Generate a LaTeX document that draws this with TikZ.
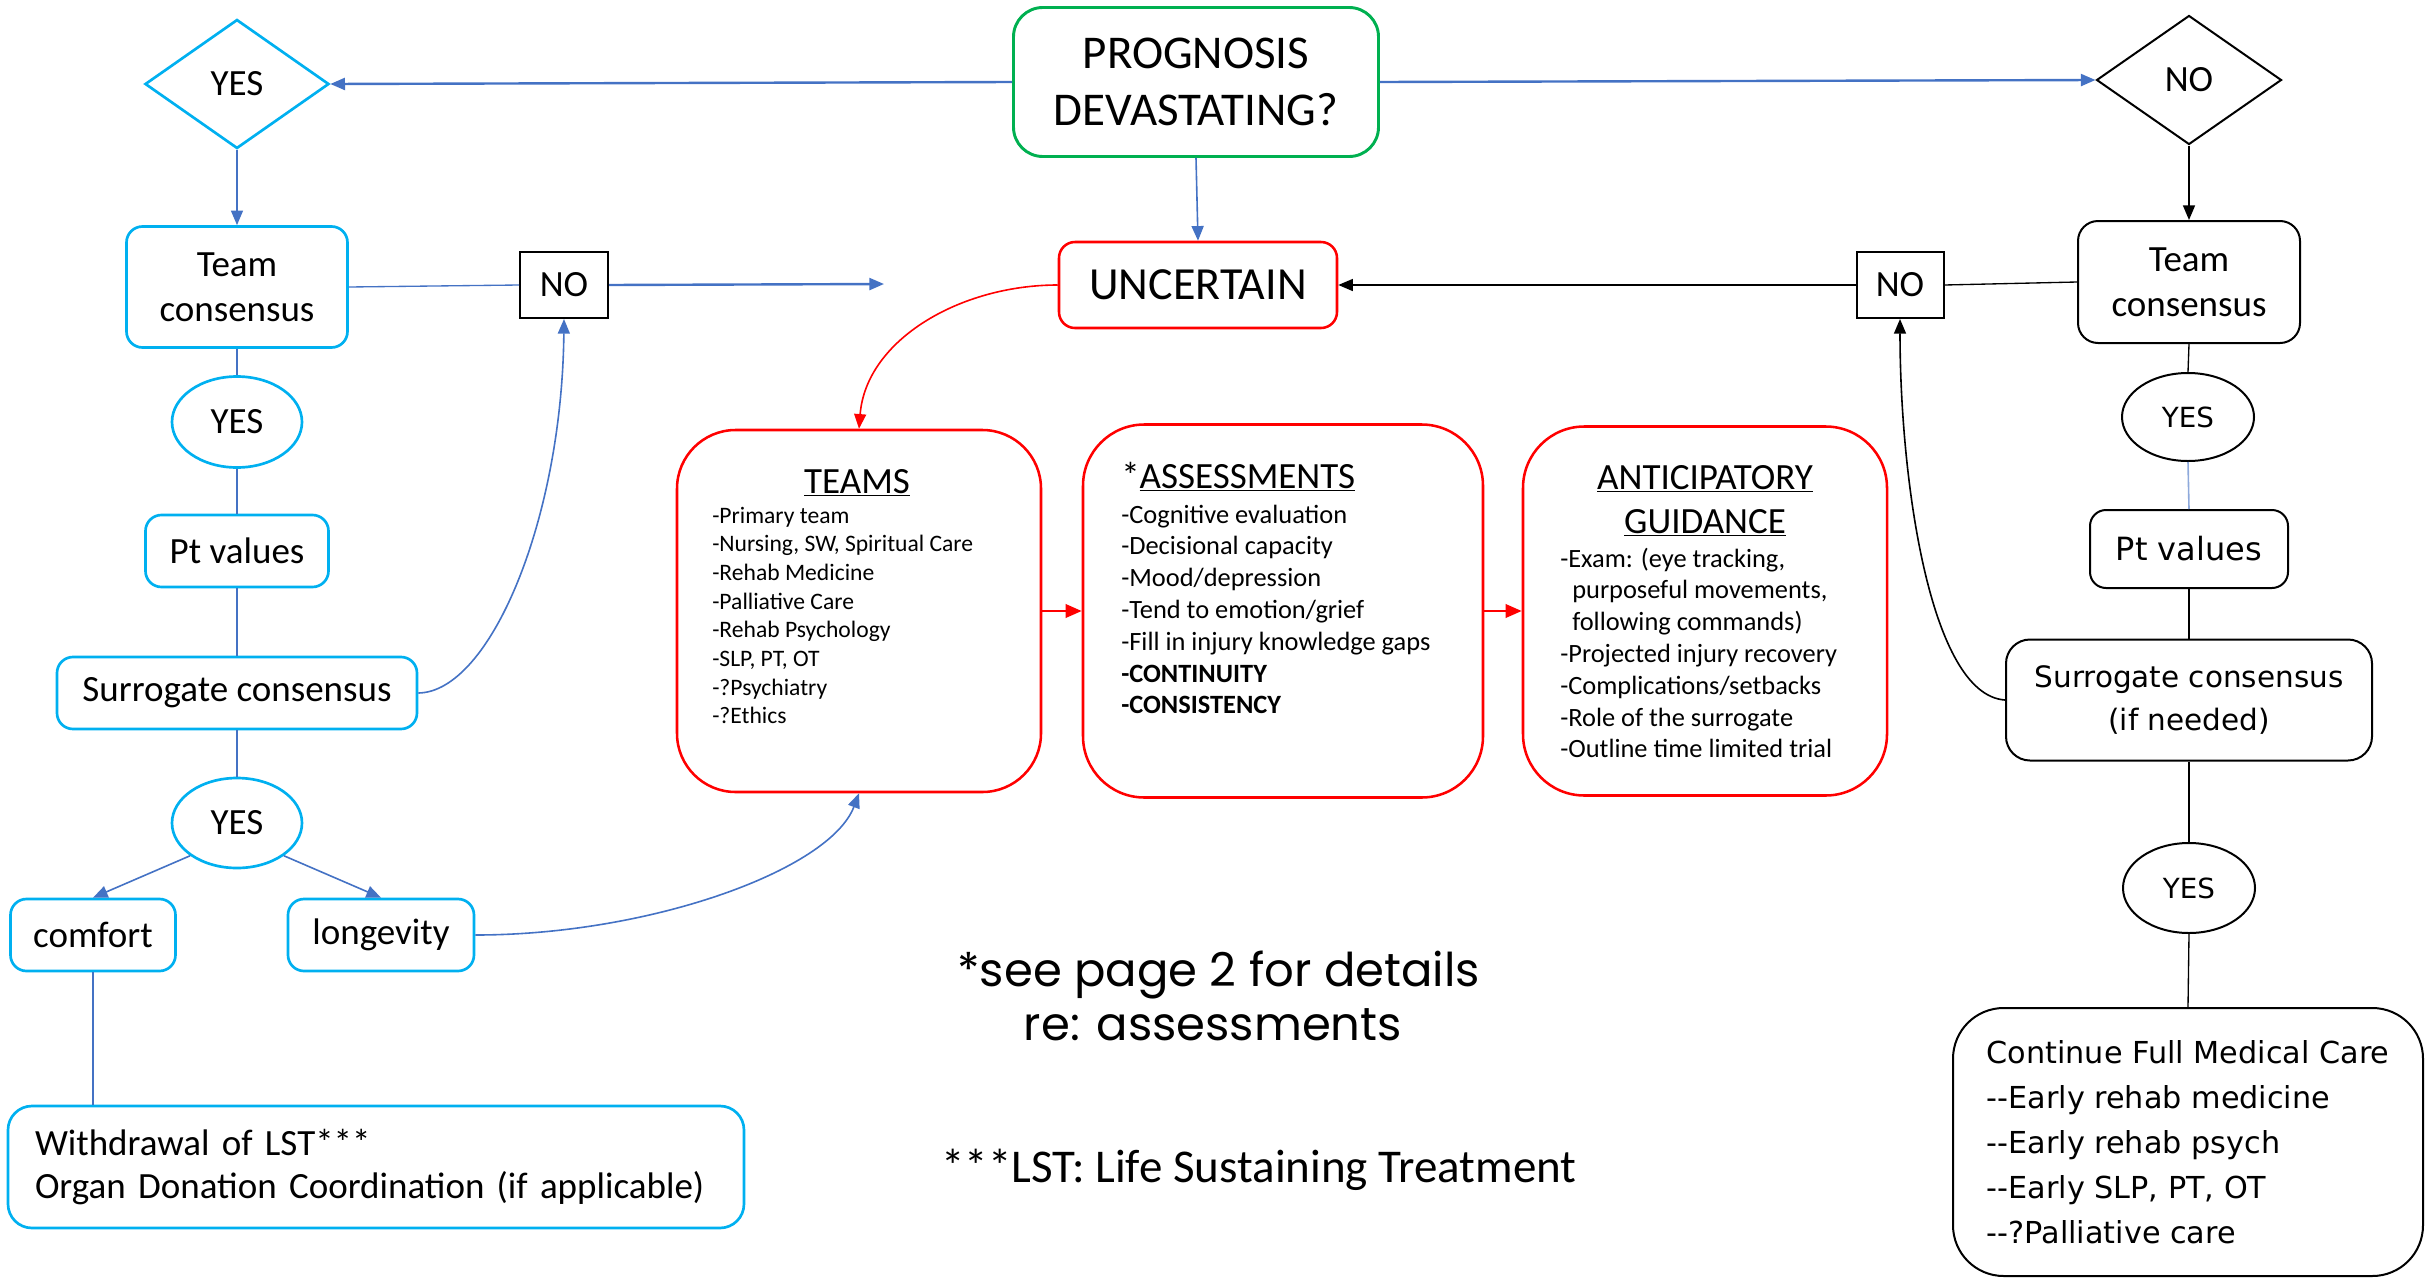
\documentclass[tikz,border=0pt]{standalone}
\usepackage{fontspec}
\setmainfont{Carlito}
\newfontfamily\verd{DejaVu Sans}
\newfontfamily\geo{Poppins}
\usetikzlibrary{shapes.geometric,arrows.meta}

\definecolor{cyanb}{HTML}{00B0F0}
\definecolor{linkb}{HTML}{4472C4}
\definecolor{okgreen}{HTML}{00B050}
\definecolor{paleb}{HTML}{8EA9DB}
\definecolor{alertred}{HTML}{FF0000}

% font sizes
\newcommand\fBig{\fontsize{35.25pt}{42.75pt}\selectfont}
\newcommand\fUnc{\fontsize{34.5pt}{41pt}\selectfont}
\newcommand\fMid{\fontsize{27.75pt}{33.75pt}\selectfont}
\newcommand\fTeam{\fontsize{17.7pt}{21.5pt}\selectfont}
\newcommand\fList{\fontsize{19.8pt}{23.85pt}\selectfont}
\newcommand\fVyes{\verd\fontsize{20.8pt}{25pt}\selectfont}
\newcommand\fVpt{\verd\fontsize{24pt}{29pt}\selectfont}
\newcommand\fVsur{\verd\fontsize{22.1pt}{32pt}\selectfont}
\newcommand\fVcont{\verd\fontsize{22.7pt}{33.75pt}\selectfont}
\newcommand\fGeo{\geo\fontsize{34.9pt}{41pt}\selectfont}

% lists whose baseline is their first line
\newcommand\toplist[1]{\begin{tabular}[t]{@{}l@{}}#1\end{tabular}}
\newcommand\topcentre[1]{\begin{tabular}[t]{@{}c@{}}#1\end{tabular}}

\tikzset{
  every node/.style={inner sep=0pt},
  cbox/.style={draw=cyanb, line width=2pt, rounded corners=12pt, align=center, font=\fMid},
  kbox/.style={draw=black, line width=1.5pt, rounded corners=12pt, align=center, font=\fMid},
  rbox/.style={draw=alertred, line width=1.9pt},
  sqbox/.style={draw=black, line width=1.5pt, align=center, font=\fMid},
  cdiam/.style={diamond, draw=cyanb, line width=2pt, font=\fMid},
  kdiam/.style={diamond, draw=black, line width=1.5pt, font=\fMid},
  coval/.style={ellipse, draw=cyanb, line width=2pt, font=\fMid},
  koval/.style={ellipse, draw=black, line width=1.5pt, font=\fVyes},
  bline/.style={draw=linkb, line width=1pt},
  barrow/.style={draw=linkb, line width=1.2pt, -{Triangle[length=11pt,width=9pt]}},
  bthick/.style={draw=linkb, line width=1.8pt, -{Triangle[length=11pt,width=9pt]}},
  kline/.style={draw=black, line width=1pt},
  karrow/.style={draw=black, line width=1.2pt, -{Triangle[length=11pt,width=9pt]}},
  pline/.style={draw=paleb, line width=1.2pt},
  rcurve/.style={draw=alertred, line width=1.2pt, -{Triangle[length=11pt,width=9pt]}},
  rarrow/.style={draw=alertred, line width=1.8pt, -{Triangle[length=12pt,width=10pt]}},
}

\begin{document}
\begin{tikzpicture}[x=0.75pt, y=-0.75pt]
\useasboundingbox (0,0) rectangle (2432,1278);

% ---------- centre column ----------
\node[draw=okgreen, line width=2.2pt, rounded corners=22pt, align=center, font=\fBig,
      minimum width=273.75pt, minimum height=111.75pt] (prog) at (1196,82) {PROGNOSIS\\DEVASTATING?};
\node[rbox, rounded corners=12pt, font=\fUnc, minimum width=208.5pt, minimum height=64.5pt] (unc) at (1198,285) {UNCERTAIN};

\node[rbox, rounded corners=44pt, minimum width=273pt, minimum height=271.5pt] (teams) at (859,611) {};
\node[rbox, rounded corners=46pt, minimum width=300pt, minimum height=279.75pt] (assess) at (1283,611) {};
\node[rbox, rounded corners=46pt, minimum width=273pt, minimum height=276.75pt] (antic) at (1705,611) {};

\node[anchor=base, font=\fMid] (teamsH) at (857,493) {\underline{TEAMS}};
\node[anchor=base west, font=\fTeam] (teamsL) at (712,523)
  {\toplist{-Primary team\\-Nursing, SW, Spiritual Care\\-Rehab Medicine\\-Palliative Care\\-Rehab Psychology\\-SLP, PT, OT\\-?Psychiatry\\-?Ethics}};

\node[anchor=base west, font=\fMid] (assessH) at (1121,488) {*\underline{ASSESSMENTS}};
\node[anchor=base west, font=\fList] (assessL) at (1121,523)
  {\toplist{-Cognitive evaluation\\-Decisional capacity\\-Mood/depression\\-Tend to emotion/grief\\-Fill in injury knowledge gaps\\\textbf{-CONTINUITY}\\\textbf{-CONSISTENCY}}};

\node[anchor=base, font=\fontsize{27.75pt}{33pt}\selectfont] (anticH) at (1705,489) {\topcentre{\underline{ANTICIPATORY}\\\underline{GUIDANCE}}};
\node[anchor=base west, font=\fList] (anticL) at (1560,567)
  {\toplist{-Exam: (eye tracking,\\\hspace*{9pt}purposeful movements,\\\hspace*{9pt}following commands)\\-Projected injury recovery\\-Complications/setbacks\\-Role of the surrogate\\-Outline time limited trial}};

\node[anchor=base west, font=\fGeo] (seeNote) at (957,986) {\toplist{*see page 2 for details\\\hspace*{50pt}re: assessments}};
\node[anchor=base west, font=\fBig] (lstNote) at (941,1182) {***LST: Life Sustaining Treatment};

% ---------- left column ----------
\node[cdiam, minimum width=138pt, minimum height=96.75pt] (yesD) at (237,84) {YES};
\node[cbox, minimum width=165.75pt, minimum height=90.75pt] (tcL) at (237,287) {Team\\consensus};
\node[sqbox, minimum width=66pt, minimum height=49.5pt] (noL) at (564,285) {NO};
\node[coval, minimum width=97.5pt, minimum height=68.25pt] (yes1) at (237,422) {YES};
\node[cbox, minimum width=137.25pt, minimum height=54pt] (ptL) at (237,551) {Pt values};
\node[cbox, minimum width=270pt, minimum height=54pt] (surL) at (237,693) {Surrogate consensus};
\node[coval, minimum width=97.5pt, minimum height=67.5pt] (yes2) at (237,823) {YES};
\node[cbox, minimum width=123.75pt, minimum height=54pt] (comfort) at (93,935) {comfort};
\node[cbox, minimum width=139.5pt, minimum height=54pt] (longev) at (381,935) {longevity};
\node[cbox, rounded corners=18pt, minimum width=552pt, minimum height=91.5pt, inner xsep=20.25pt,
      text width=511.5pt, align=left, font=\fontsize{27.75pt}{32.25pt}\selectfont] (withdraw) at (376,1167)
  {Withdrawal of LST***\\Organ Donation Coordination (if applicable)};

% ---------- right column ----------
\node[kdiam, minimum width=138.75pt, minimum height=96.75pt] (noD) at (2189,80) {NO};
\node[kbox, rounded corners=15pt, minimum width=166.5pt, minimum height=91.5pt] (tcR) at (2189,282) {Team\\consensus};
\node[sqbox, minimum width=65.25pt, minimum height=49.5pt] (noR) at (1900,285) {NO};
\node[koval, minimum width=99pt, minimum height=66pt] (yesR1) at (2188,417) {YES};
\node[kbox, font=\fVpt, minimum width=148.5pt, minimum height=58.5pt] (ptR) at (2189,549) {Pt values};
\node[kbox, rounded corners=18pt, font=\fVsur, minimum width=274.5pt, minimum height=90.75pt] (surR) at (2189,700) {Surrogate consensus\\(if needed)};
\node[koval, minimum width=99pt, minimum height=67.5pt] (yesR2) at (2189,888) {YES};
\node[kbox, rounded corners=38pt, font=\fVcont, align=left, minimum width=352.5pt, minimum height=201pt] (cont) at (2188,1142)
  {Continue Full Medical Care\\--Early rehab medicine\\--Early rehab psych\\--Early SLP, PT, OT\\--?Palliative care};

% ---------- connectors ----------
\draw[bthick] (prog.west) -- (yesD.east);
\draw[bthick] (prog.east) -- (noD.west);
\draw[barrow] (prog.south) -- (unc.north);

\draw[barrow] (yesD.south) -- (tcL.north);
\draw[bline] (tcL.east) -- (noL.west);
\coordinate (noLend) at (884,284);
\draw[bthick] (noL.east) -- (noLend);
\draw[bline] (tcL.south) -- (yes1.north);
\draw[bline] (yes1.south) -- (ptL.north);
\draw[bline] (ptL.south) -- (surL.north);
\draw[bline] (surL.south) -- (yes2.north);
\draw[barrow] (yes2.south west) -- (comfort.north);
\draw[barrow] (yes2.south east) -- (longev.north);
\draw[bline] (comfort.south) -- (comfort.south |- withdraw.north);
\draw[barrow] (surL.east) .. controls (490,692) and (562,520) .. (noL.south);
\draw[barrow] (longev.east) .. controls (650,935) and (830,870) .. (teams.south);

\draw[rcurve] (unc.west) .. controls (960,285) and (866,340) .. (teams.north);
\draw[rarrow] (teams.east) -- (assess.west);
\draw[rarrow] (assess.east) -- (antic.west);

\draw[karrow] (noD.south) -- (tcR.north);
\draw[kline] (tcR.west) -- (noR.east);
\draw[karrow] (noR.west) -- (unc.east);
\draw[kline] (tcR.south) -- (yesR1.north);
\draw[pline] (yesR1.south) -- (ptR.north);
\draw[kline] (ptR.south) -- (surR.north);
\draw[kline] (surR.south) -- (yesR2.north);
\draw[kline] (yesR2.south) -- (cont.north);
\draw[karrow] (surR.west) .. controls (1930,695) and (1900,480) .. (noR.south);
\end{tikzpicture}
\end{document}
